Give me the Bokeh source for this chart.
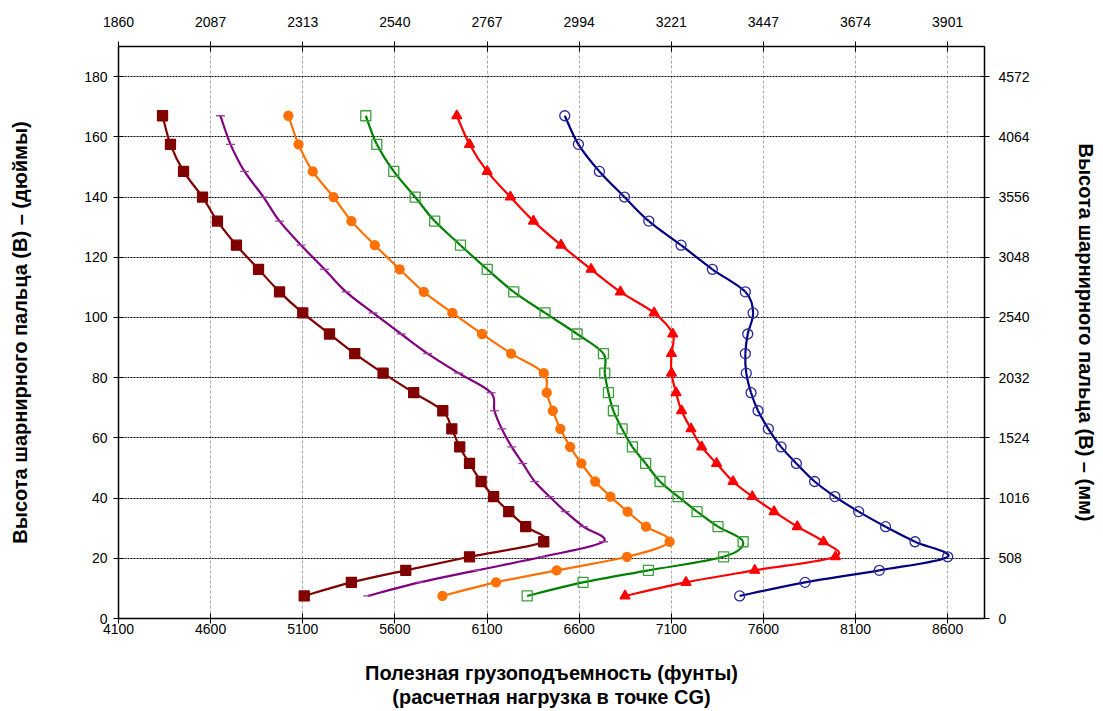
import numpy as np
from bokeh.plotting import figure
from bokeh.models import LinearAxis, FixedTicker, Range1d, ColumnDataSource
from bokeh.embed import file_html
from bokeh.resources import INLINE

# ---------------- data ----------------
heights = [167, 157.5, 148.5, 140, 132, 124, 116, 108.5, 101.5, 94.5, 88, 81.5, 75,
           69, 63, 57, 51.5, 45.5, 40.5, 35.5, 30.5, 25.5, 20.5, 16, 12, 7.5]

cap_darkred = [4339, 4382, 4453, 4556, 4637, 4740, 4860, 4974, 5100, 5245, 5382, 5536, 5702,
               5860, 5909, 5952, 6005, 6068, 6136, 6218, 6310, 6408, 6005, 5659, 5364, 5108]
cap_purple = [4653, 4708, 4784, 4887, 4974, 5091, 5218, 5335, 5482, 5634, 5778, 5946, 6122,
              6140, 6180, 6234, 6294, 6359, 6439, 6525, 6623, 6732, 6402, 6046, 5735, 5453]
cap_orange = [5022, 5077, 5154, 5267, 5364, 5491, 5626, 5757, 5912, 6073, 6231, 6408, 6424,
              6457, 6498, 6551, 6612, 6687, 6770, 6863, 6963, 7091, 6860, 6478, 6149, 5858]
cap_green = [5442, 5502, 5594, 5710, 5816, 5956, 6101, 6245, 6415, 6589, 6732, 6739, 6759,
             6786, 6833, 6889, 6961, 7039, 7137, 7240, 7354, 7490, 7384, 6976, 6621, 6318]
cap_red = [5936, 6005, 6101, 6227, 6352, 6502, 6665, 6824, 7007, 7108, 7101, 7101, 7126,
           7156, 7207, 7265, 7346, 7435, 7540, 7658, 7784, 7926, 7991, 7553, 7180, 6849]
cap_blue = [6522, 6596, 6710, 6846, 6978, 7153, 7323, 7502, 7544, 7515, 7502, 7507, 7533,
            7571, 7627, 7696, 7779, 7878, 7988, 8117, 8263, 8423, 8600, 8229, 7826, 7471]

x_ticks = [4100, 4600, 5100, 5600, 6100, 6600, 7100, 7600, 8100, 8600]
top_labels = ["1860", "2087", "2313", "2540", "2767", "2994", "3221", "3447", "3674", "3901"]
y_ticks = [0, 20, 40, 60, 80, 100, 120, 140, 160, 180]
right_labels = ["0", "508", "1016", "1524", "2032", "2540", "3048", "3556", "4064", "4572"]

FONT = "Liberation Sans"

p = figure(width=1102, height=710, output_backend="svg", toolbar_location=None,
           x_range=Range1d(4100, 8800), y_range=Range1d(0, 190),
           min_border_left=118, min_border_right=118, min_border_top=46, min_border_bottom=91)
p.outline_line_color = "black"
p.outline_line_width = 1

# grid
p.ygrid.ticker = FixedTicker(ticks=y_ticks)
p.xgrid.ticker = FixedTicker(ticks=x_ticks)
p.ygrid.grid_line_color = "black"
p.ygrid.grid_line_dash = "2 1"
p.ygrid.grid_line_width = 1
p.xgrid.grid_line_color = "#a8a8a8"
p.xgrid.grid_line_dash = "3 2"
p.xgrid.grid_line_width = 1


def style_axis(ax, ticks):
    ax.ticker = FixedTicker(ticks=ticks)
    ax.minor_tick_line_color = None
    ax.major_tick_in = 5
    ax.major_tick_out = 5
    ax.axis_line_color = "black"
    ax.axis_line_width = 1.5
    ax.major_tick_line_color = "black"
    ax.major_label_text_font = FONT
    ax.major_label_text_font_size = "14px"
    ax.major_label_text_color = "black"
    ax.axis_label_text_font = FONT
    ax.axis_label_text_font_size = "20px"
    ax.axis_label_text_font_style = "bold"
    ax.axis_label_text_color = "black"
    ax.axis_label_text_line_height = 1.1


# bottom
style_axis(p.xaxis[0], x_ticks)
p.xaxis[0].major_label_standoff = 0
p.xaxis[0].axis_label = "Полезная грузоподъемность (фунты)\n(расчетная нагрузка в точке CG)"
p.xaxis[0].axis_label_standoff = 25

# left
style_axis(p.yaxis[0], y_ticks)
p.yaxis[0].major_label_standoff = 6
p.yaxis[0].axis_label = "Высота шарнирного пальца (B) – (дюймы)"
p.yaxis[0].axis_label_standoff = 50

# top
top = LinearAxis()
style_axis(top, x_ticks)
top.major_label_overrides = {t: l for t, l in zip(x_ticks, top_labels)}
top.major_label_standoff = 15
p.add_layout(top, "above")

# right
right = LinearAxis()
style_axis(right, y_ticks)
right.major_label_overrides = {t: l for t, l in zip(y_ticks, right_labels)}
right.major_label_standoff = 9
right.axis_label = "Высота шарнирного пальца (B) – (мм)"
right.axis_label_standoff = 42
right.axis_label_text_line_height = 1.0
p.add_layout(right, "right")


def smooth(xs, ys, t=1.0 / 6.0):
    n = len(xs)
    d = dict(x0=[], y0=[], x1=[], y1=[], cx0=[], cy0=[], cx1=[], cy1=[])
    for i in range(n - 1):
        a = max(i - 1, 0)
        b = min(i + 2, n - 1)
        d["x0"].append(xs[i]); d["y0"].append(ys[i])
        d["x1"].append(xs[i + 1]); d["y1"].append(ys[i + 1])
        d["cx0"].append(xs[i] + (xs[i + 1] - xs[a]) * t)
        d["cy0"].append(ys[i] + (ys[i + 1] - ys[a]) * t)
        d["cx1"].append(xs[i + 1] - (xs[b] - xs[i]) * t)
        d["cy1"].append(ys[i + 1] - (ys[b] - ys[i]) * t)
    return ColumnDataSource(d)


series = [
    (cap_darkred, "#800000", "square", "#800000", "#800000", 10),
    (cap_purple, "#800080", "dash", "#800080", "#a040a0", 9),
    (cap_orange, "#ff7000", "circle", "#ff7000", "#ff7000", 9),
    (cap_green, "#008000", "square", None, "#3aa03a", 10),
    (cap_red, "#ff0000", "triangle", "#ff0000", "#ff0000", 10),
    (cap_blue, "#000080", "circle", None, "#2828a0", 10),
]

for xs, lc, mk, fc, mc, sz in series:
    src = smooth(xs, heights)
    p.bezier(x0="x0", y0="y0", x1="x1", y1="y1", cx0="cx0", cy0="cy0", cx1="cx1", cy1="cy1",
             source=src, line_color=lc, line_width=2.2)
    p.scatter(xs, heights, marker=mk, size=sz, fill_color=fc, line_color=mc,
              line_width=1.3, fill_alpha=1.0 if fc else 0.0)

open("out.html", "w").write(file_html(p, INLINE))
